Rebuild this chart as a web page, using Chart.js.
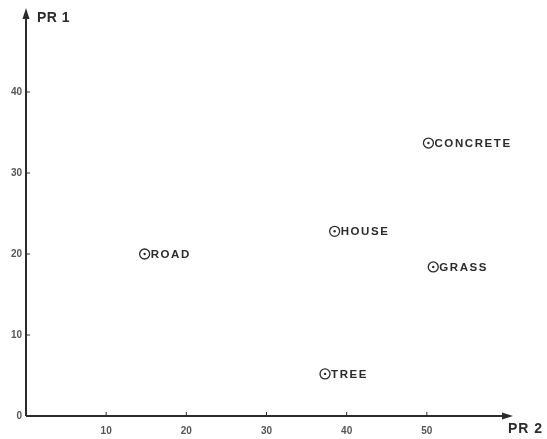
<!DOCTYPE html>
<html>
<head>
<meta charset="utf-8">
<script src="https://cdn.jsdelivr.net/npm/chart.js@4"></script>
<style>
  html, body { margin: 0; padding: 0; background: #fff; }
  #wrap { width: 547px; height: 439px; }
</style>
</head>
<body>
<div id="wrap"><canvas id="chart" width="547" height="439"></canvas></div>
<script>
// data
const names = ['ROAD', 'HOUSE', 'CONCRETE', 'GRASS', 'TREE']
const pr2 = [14.8, 38.5, 50.2, 50.8, 37.3]
const pr1 = [20.0, 22.8, 33.7, 18.4, 5.2]
const xTicks = [10, 20, 30, 40, 50]
const yTicks = [0, 10, 20, 30, 40]

const ink = '#2b2b2b'
const points = names.map((n, i) => ({ x: pr2[i], y: pr1[i] }))

// axes with arrows, small inward ticks, axis names and point labels
const drawing = {
    id: 'drawing',
    afterDatasetsDraw(chart) {
        const ctx = chart.ctx
        const xs = chart.scales.x, ys = chart.scales.y
        const x0 = xs.getPixelForValue(0), y0 = ys.getPixelForValue(0)
        const xEnd = xs.right + 6, yEnd = ys.top - 3
        ctx.save()
        ctx.strokeStyle = ink
        ctx.fillStyle = ink
        ctx.lineWidth = 2
        ctx.beginPath()
        ctx.moveTo(x0, y0)
        ctx.lineTo(xEnd - 6, y0)
        ctx.moveTo(x0, y0)
        ctx.lineTo(x0, yEnd + 8)
        ctx.stroke()
        // arrow heads
        ctx.beginPath()
        ctx.moveTo(xEnd, y0)
        ctx.lineTo(xEnd - 11, y0 - 3.5)
        ctx.lineTo(xEnd - 11, y0 + 3.5)
        ctx.closePath()
        ctx.fill()
        ctx.beginPath()
        ctx.moveTo(x0, yEnd)
        ctx.lineTo(x0 - 3.5, yEnd + 11)
        ctx.lineTo(x0 + 3.5, yEnd + 11)
        ctx.closePath()
        ctx.fill()
        // ticks
        ctx.lineWidth = 1
        ctx.beginPath()
        xTicks.forEach(v => {
            const px = xs.getPixelForValue(v)
            ctx.moveTo(px, y0)
            ctx.lineTo(px, y0 - 4)
        })
        yTicks.filter(v => v > 0).forEach(v => {
            const py = ys.getPixelForValue(v)
            ctx.moveTo(x0, py)
            ctx.lineTo(x0 + 4, py)
        })
        ctx.stroke()
        // axis names
        ctx.font = 'bold 14px "Liberation Sans", Arial, sans-serif'
        ctx.textBaseline = 'middle'
        ctx.textAlign = 'left'
        ctx.letterSpacing = '0.5px'
        ctx.fillText('PR 1', x0 + 11, yEnd + 10)
        ctx.letterSpacing = '1px'
        ctx.fillText('PR 2', xEnd - 5, y0 + 13)
        // point labels
        ctx.font = 'bold 11.5px "Liberation Sans", Arial, sans-serif'
        ctx.letterSpacing = '1.6px'
        const meta = chart.getDatasetMeta(0)
        meta.data.forEach((pt, i) => {
            ctx.fillText(names[i], pt.x + 6, pt.y + 0.5)
        })
        ctx.restore()
    }
}

const tickFont = { family: '"Liberation Sans", Arial, sans-serif', size: 10, weight: 'bold' }

new Chart(document.getElementById('chart'), {
    type: 'scatter',
    data: {
        datasets: [{
            data: points,
            pointStyle: 'circle',
            pointRadius: 5,
            pointBorderWidth: 1.3,
            pointBorderColor: ink,
            pointBackgroundColor: 'rgba(0,0,0,0)'
        }, {
            data: points,
            pointStyle: 'circle',
            pointRadius: 1.2,
            pointBorderWidth: 0,
            pointBackgroundColor: ink
        }]
    },
    options: {
        responsive: false,
        animation: false,
        layout: { padding: { top: 11, right: 40, left: 0, bottom: 0 } },
        plugins: { legend: { display: false }, tooltip: { enabled: false } },
        scales: {
            x: {
                type: 'linear', min: 0, max: 60,
                grid: { display: false, drawTicks: false },
                border: { display: false },
                afterFit: s => { s.height = 23 },
                afterBuildTicks: s => { s.ticks = xTicks.map(v => ({ value: v })) },
                ticks: { padding: 9, color: '#555', font: tickFont }
            },
            y: {
                type: 'linear', min: 0, max: 50,
                grid: { display: false, drawTicks: false },
                border: { display: false },
                afterFit: s => { s.width = 26 },
                afterBuildTicks: s => { s.ticks = yTicks.map(v => ({ value: v })) },
                ticks: { padding: 4, color: '#555', font: tickFont }
            }
        }
    },
    plugins: [drawing]
})
</script>
</body>
</html>
